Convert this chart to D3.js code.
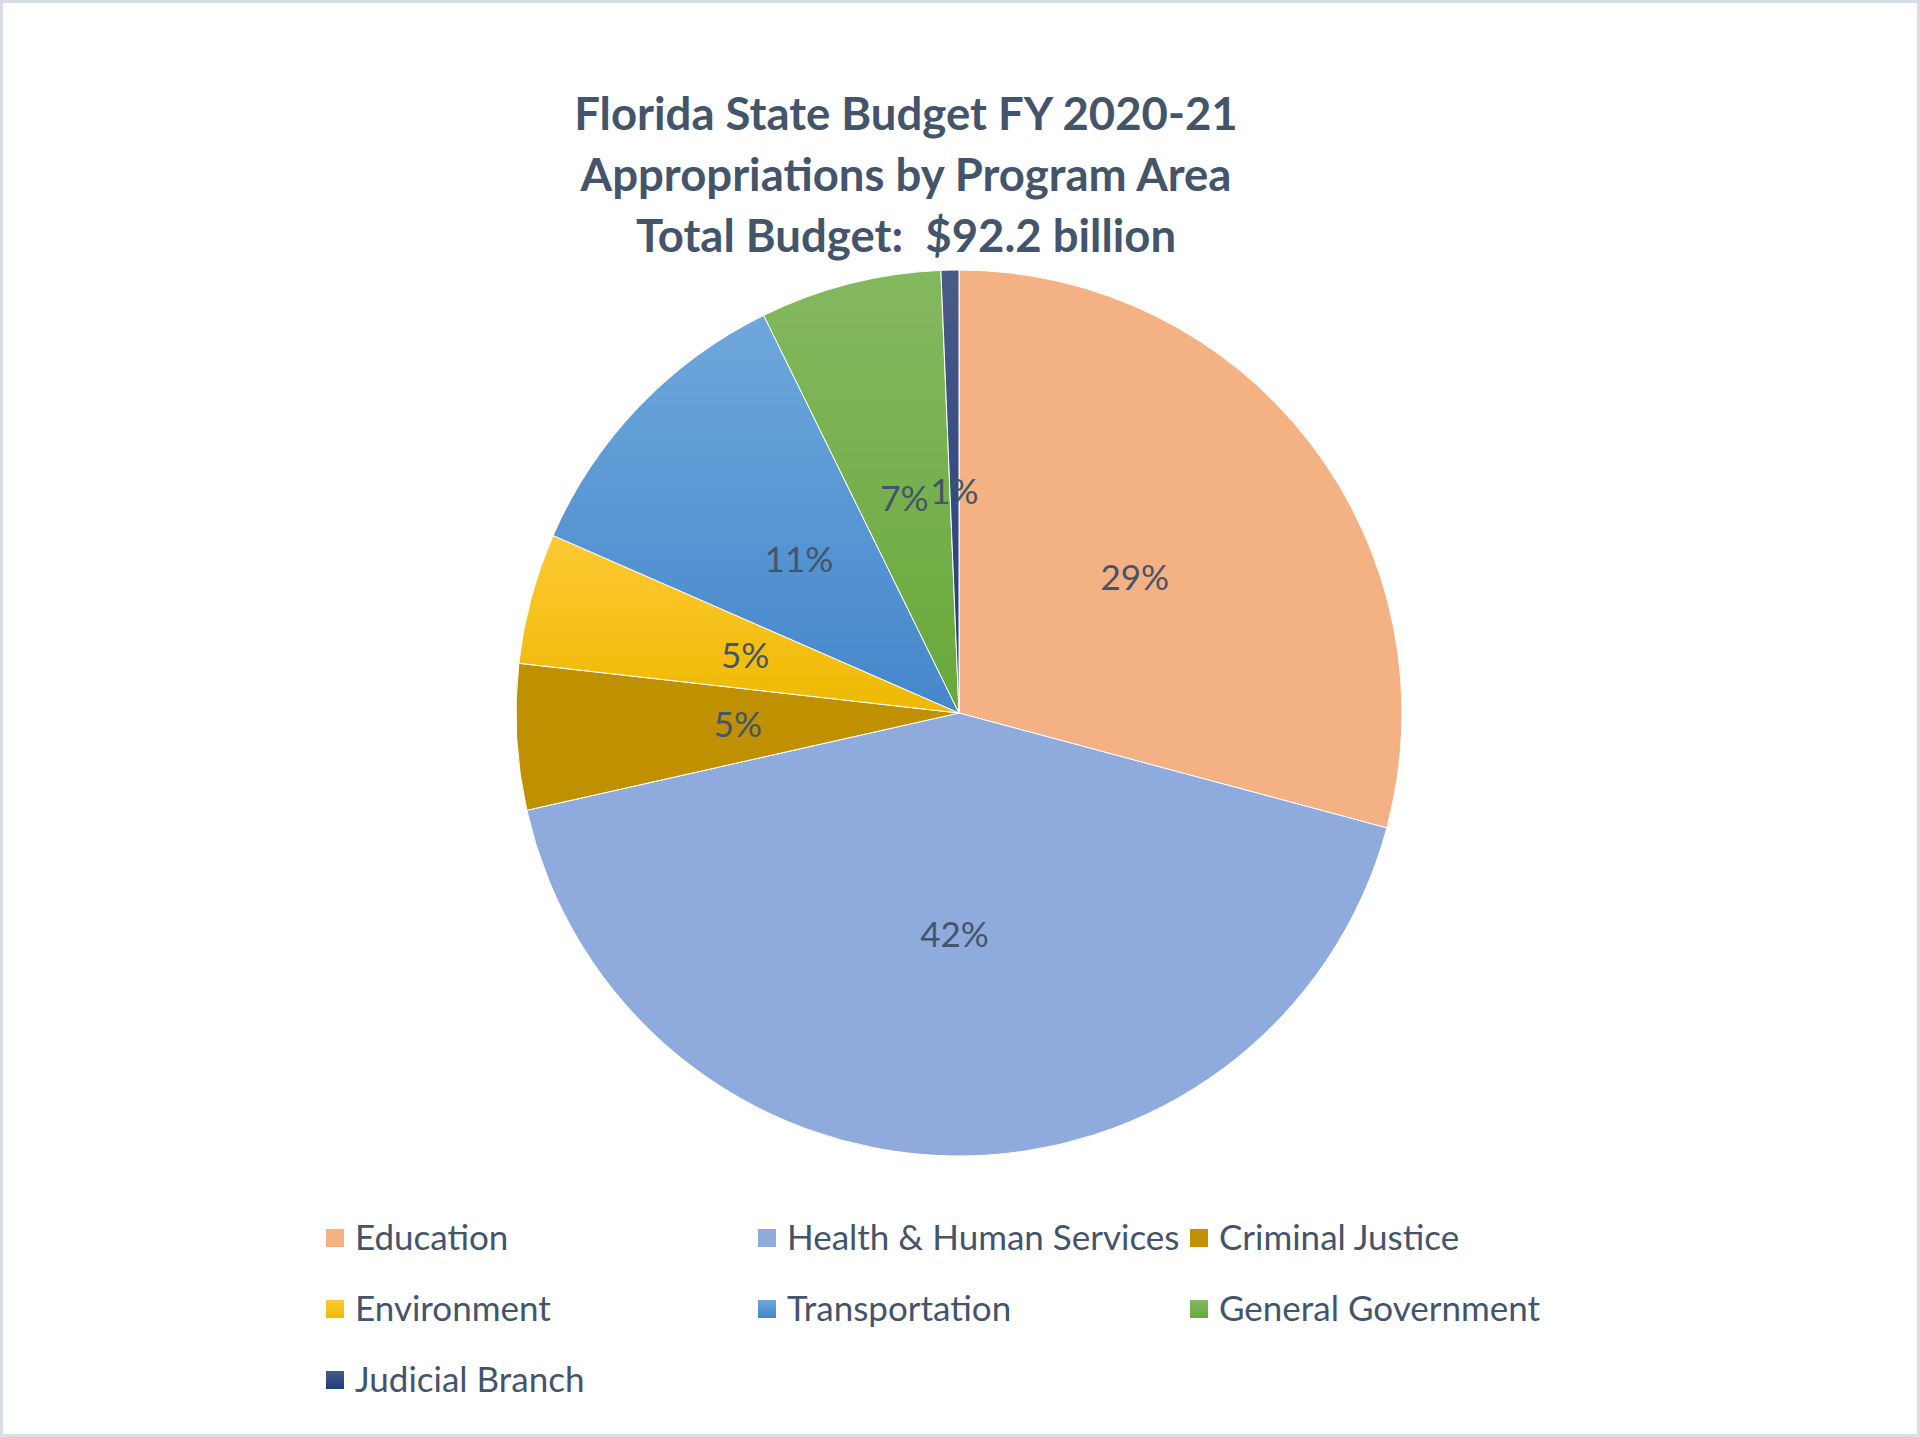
<!DOCTYPE html>
<html>
<head>
<meta charset="utf-8">
<script src="https://cdn.jsdelivr.net/npm/d3@7"></script>
<style>
  html, body { margin: 0; padding: 0; background: #fff; }
  svg text { font-family: Lato, "Open Sans", sans-serif; white-space: pre; }
</style>
</head>
<body>
<svg id="chart"></svg>
<script>
// budget in $ billions
const categories = ['Education', 'Health & Human Services', 'Criminal Justice', 'Environment',
    'Transportation', 'General Government', 'Judicial Branch'];
const values = [26.9, 39.0, 4.9, 4.4, 10.3, 6.1, 0.6];
const titleLines = ['Florida State Budget FY 2020-21', 'Appropriations by Program Area', 'Total Budget:  $92.2 billion'];

// [top, bottom] of each slice's vertical gradient
const colors = [
    ['#F4B183', '#F4B183'],
    ['#8FAADC', '#8FAADC'],
    ['#BF9000', '#BF9000'],
    ['#FFC935', '#EEB900'],
    ['#6EA7DC', '#4487CB'],
    ['#84B860', '#68A93A'],
    ['#4A5A86', '#1F3E7C']
];

const W = 1920, H = 1437;
const textColor = '#44546A';

const svg = d3.select('#chart')
    .attr('width', W)
    .attr('height', H);

// chart area border
svg.append('rect')
    .attr('x', 1.5).attr('y', 1.5)
    .attr('width', W - 3).attr('height', H - 3)
    .attr('fill', '#fff')
    .attr('stroke', '#D9DEE6')
    .attr('stroke-width', 3);

const defs = svg.append('defs');
colors.forEach((c, i) => {
    const g = defs.append('linearGradient')
        .attr('id', 'grad' + i)
        .attr('x1', 0).attr('y1', 0).attr('x2', 0).attr('y2', 1);
    g.append('stop').attr('offset', '0%').attr('stop-color', c[0]);
    g.append('stop').attr('offset', '100%').attr('stop-color', c[1]);
});

// title
svg.append('g')
    .selectAll('text')
    .data(titleLines)
    .enter().append('text')
    .attr('x', 906)
    .attr('y', (d, i) => 130 + i * 61)
    .attr('text-anchor', 'middle')
    .attr('fill', textColor)
    .style('font-size', '45.5px')
    .style('font-weight', 700)
    .text(d => d);

// pie
const cx = 959, cy = 713, r = 443;
const total = d3.sum(values);
const data = categories.map((c, i) => ({ name: c, value: values[i], idx: i }));

const pie = d3.pie().sort(null).value(d => d.value);
const arc = d3.arc().innerRadius(0).outerRadius(r);
const labelArc = d3.arc().innerRadius(r * 0.5).outerRadius(r * 0.5);

const g = svg.append('g').attr('transform', `translate(${cx},${cy})`);

g.selectAll('path')
    .data(pie(data))
    .enter().append('path')
    .attr('d', arc)
    .attr('fill', d => `url(#grad${d.data.idx})`)
    .attr('stroke', '#fff')
    .attr('stroke-width', 1);

g.selectAll('text')
    .data(pie(data))
    .enter().append('text')
    .attr('transform', d => `translate(${labelArc.centroid(d)})`)
    .attr('text-anchor', 'middle')
    .attr('dy', '0.35em')
    .attr('fill', textColor)
    .style('font-size', '35px')
    .text(d => Math.round(d.data.value / total * 100) + '%');

// legend, 3 columns
const colX = [326, 758, 1190];
const rowY = [1238, 1309, 1380];

const legend = svg.append('g')
    .selectAll('g')
    .data(data)
    .enter().append('g')
    .attr('transform', (d, i) => `translate(${colX[i % 3]},${rowY[Math.floor(i / 3)]})`);

legend.append('rect')
    .attr('x', 0).attr('y', -9)
    .attr('width', 18).attr('height', 18)
    .attr('fill', d => `url(#grad${d.idx})`);

legend.append('text')
    .attr('x', 29)
    .attr('dy', '0.35em')
    .attr('fill', textColor)
    .style('font-size', '35px')
    .text(d => d.name);
</script>
</body>
</html>
